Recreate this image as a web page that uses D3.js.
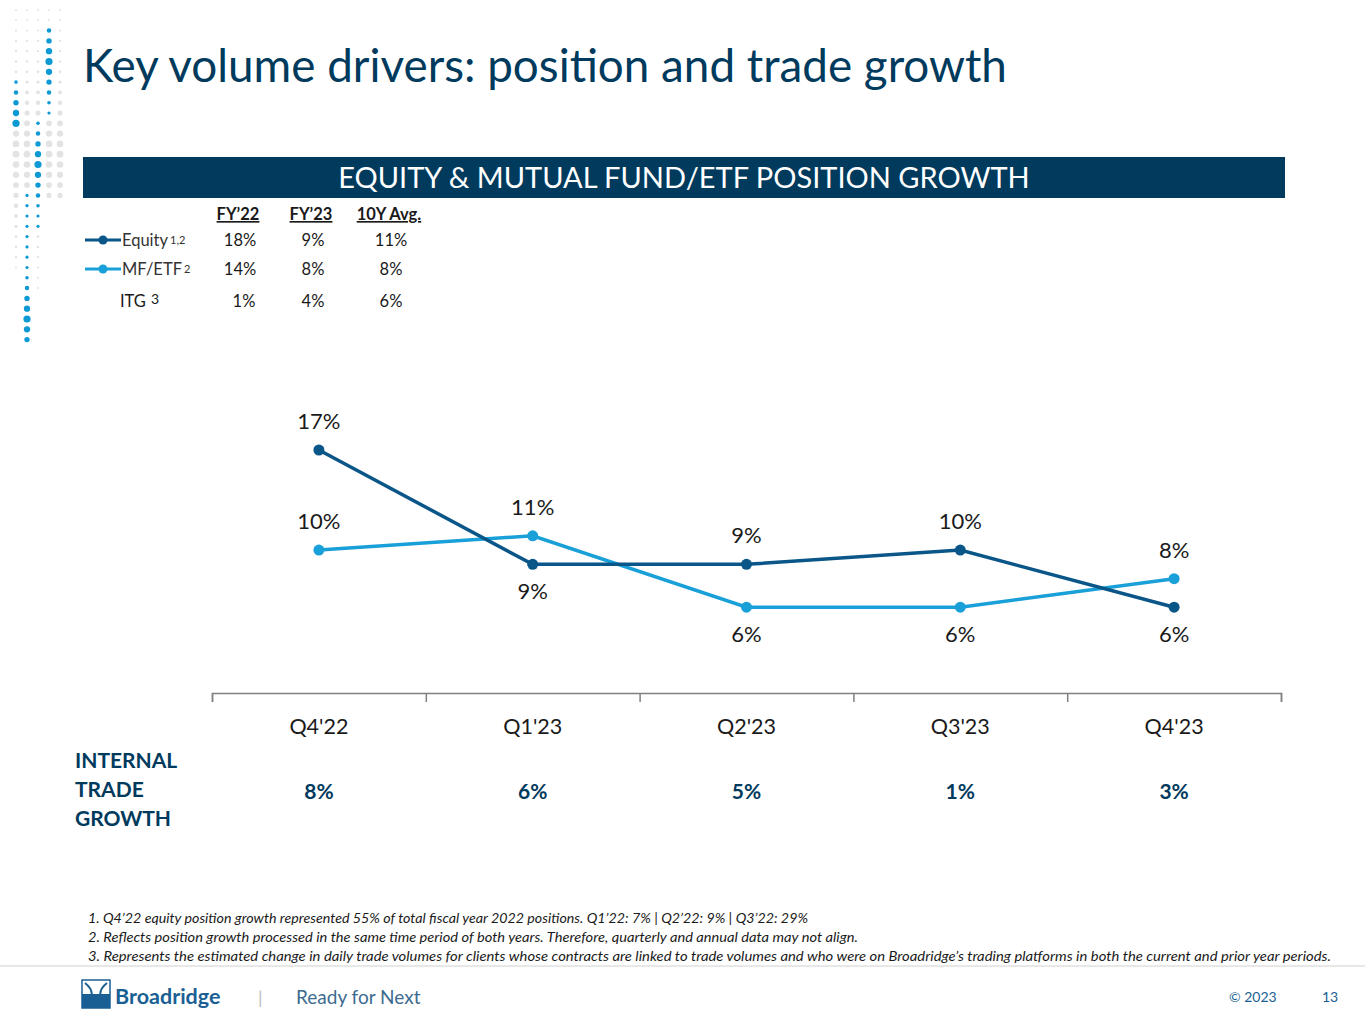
<!DOCTYPE html>
<html>
<head>
<meta charset="utf-8">
<script src="https://cdn.jsdelivr.net/npm/d3@7"></script>
<style>
  body { margin: 0; background: #fff; }
  svg { display: block; font-family: Lato, "Open Sans", sans-serif; }
</style>
</head>
<body>
<div id="chart"></div>
<script>
// ---- data ----
var quarters = ["Q4'22", "Q1'23", "Q2'23", "Q3'23", "Q4'23"];
var equity = [17, 9, 9, 10, 6];
var mfEtf = [10, 11, 6, 6, 8];
var tradeGrowth = [8, 6, 5, 1, 3];
// where each data label sits: "a" above the point, "b" below
var equityLabelPos = ["a", "b", "a", "a", "b"];
var mfLabelPos = ["a", "a", "b", "b", "a"];

var tableCols = ["FY\u201922", "FY\u201923", "10Y Avg."];
var tableRows = ["Equity", "MF/ETF", "ITG"];
var tableNotes = ["1,2", "2", "3"];
var tableValues = [[18, 9, 11], [14, 8, 8], [1, 4, 6]];

var footnotes = [
  "1. Q4\u201922 equity position growth represented 55% of total fiscal year 2022 positions. Q1\u201922: 7% | Q2\u201922: 9% | Q3\u201922: 29%",
  "2. Reflects position growth processed in the same time period of both years. Therefore, quarterly and annual data may not align.",
  "3. Represents the estimated change in daily trade volumes for clients whose contracts are linked to trade volumes and who were on Broadridge\u2019s trading platforms in both the current and prior year periods."
];
var footnoteWidths = [720, 770, 1243];

var navy = "#003a5d";
var eqColor = "#0b5688";
var mfColor = "#1aa0d8";

var W = 1365, H = 1024;
var svg = d3.select("#chart").append("svg")
  .attr("width", W).attr("height", H);

// ---- decorative dot pattern (top-left) ----
var dotCols = [16, 27, 38, 49, 60];
// blue runs per column: [startRow, endRow, peakRow]
var blueRuns = [[[7, 11, 11]], [[18, 32, 30]], [[11, 21, 15]], [[2, 10, 5]], []];
var deco = svg.append("g");
dotCols.forEach(function (cx, ci) {
  for (var r = 0; r < 33; r++) {
    var cy = 10 + r * 10.3;
    var run = blueRuns[ci].filter(function (b) { return r >= b[0] && r <= b[1]; })[0];
    if (run) {
      var d = Math.abs(r - run[2]);
      deco.append("circle").attr("cx", cx).attr("cy", cy)
        .attr("r", Math.max(1.6, 3.6 - d * 0.45)).attr("fill", "#0d99d4");
    } else {
      var lim = [25, 17, 27, 18, 18][ci];
      if (r > lim) continue;
      var g = 1 + 2.4 * Math.exp(-Math.pow((r - 14) / 6, 2));
      deco.append("circle").attr("cx", cx).attr("cy", cy)
        .attr("r", g).attr("fill", "#e3e3e3");
    }
  }
});

// ---- title ----
svg.append("text").attr("x", 83).attr("y", 82)
  .attr("font-size", 45.8).attr("fill", navy)
  .text("Key volume drivers: position and trade growth");

// ---- header bar ----
svg.append("rect").attr("x", 83).attr("y", 157).attr("width", 1202).attr("height", 41)
  .attr("fill", navy);
svg.append("text").attr("x", 684).attr("y", 188).attr("text-anchor", "middle")
  .attr("font-size", 29).attr("fill", "#fff")
  .text("EQUITY & MUTUAL FUND/ETF POSITION GROWTH");

// ---- legend table ----
var colX = [238, 311, 389];
var rowY = [246, 275, 307];
var tbl = svg.append("g").attr("font-size", 16.5).attr("fill", "#1a1a1a");
tableCols.forEach(function (c, i) {
  tbl.append("text").attr("x", colX[i]).attr("y", 220).attr("text-anchor", "middle")
    .attr("font-weight", "bold").attr("text-decoration", "underline").text(c);
});
[eqColor, mfColor].forEach(function (col, i) {
  tbl.append("line").attr("x1", 85).attr("x2", 121).attr("y1", rowY[i] - 6).attr("y2", rowY[i] - 6)
    .attr("stroke", col).attr("stroke-width", 3);
  tbl.append("circle").attr("cx", 103).attr("cy", rowY[i] - 6).attr("r", 4.5).attr("fill", col);
});
tableRows.forEach(function (name, i) {
  var t = tbl.append("text").attr("x", i < 2 ? 122 : 120).attr("y", rowY[i])
    .attr("fill", i < 2 ? "#333" : "#1a1a1a");
  t.append("tspan").text(name);
  t.append("tspan").attr("font-size", i < 2 ? 11 : 14).attr("dx", i < 2 ? 2 : 5)
    .attr("dy", i < 2 ? -2 : -3).text(tableNotes[i]);
  tableValues[i].forEach(function (v, j) {
    tbl.append("text").attr("x", colX[j] + (i == 2 && j == 0 ? 6 : 2)).attr("y", rowY[i])
      .attr("text-anchor", "middle").text(v + "%");
  });
});

// ---- line chart ----
var x = d3.scaleBand().domain(quarters).range([212, 1281]);
var y = d3.scaleLinear().domain([0, 17]).range([693, 450]);
var cx = function (d, i) { return x(quarters[i]) + x.bandwidth() / 2; };

// axis with category labels
svg.append("g").attr("transform", "translate(0,693)")
  .call(d3.axisBottom(x).tickSize(0).tickPadding(26))
  .call(function (g) {
    g.select(".domain").remove();
    g.selectAll("text").attr("font-size", 21.5).attr("fill", "#1a1a1a")
      .attr("font-family", "Lato, sans-serif");
  });
// axis line with boundary ticks
var bound = d3.scaleLinear().domain([0, quarters.length]).range([212, 1281]);
svg.append("g").attr("transform", "translate(0,693)")
  .call(d3.axisBottom(bound).ticks(quarters.length).tickSize(9).tickSizeOuter(9).tickFormat(""))
  .call(function (g) {
    g.selectAll("path, line").attr("stroke", "#808080").attr("stroke-width", 1.5);
  });

var line = d3.line().x(cx).y(function (d) { return y(d); });

[[mfEtf, mfColor, mfLabelPos], [equity, eqColor, equityLabelPos]].forEach(function (s) {
  var g = svg.append("g");
  g.append("path").datum(s[0]).attr("d", line)
    .attr("fill", "none").attr("stroke", s[1]).attr("stroke-width", 3.5);
  g.selectAll("circle").data(s[0]).enter().append("circle")
    .attr("cx", cx).attr("cy", function (d) { return y(d); })
    .attr("r", 5.5).attr("fill", s[1]);
});

[[mfEtf, mfLabelPos], [equity, equityLabelPos]].forEach(function (s) {
  svg.append("g").selectAll("text").data(s[0]).enter().append("text")
    .attr("x", cx)
    .attr("y", function (d, i) { return y(d) + (s[1][i] == "a" ? -21 : 35); })
    .attr("text-anchor", "middle").attr("font-size", 22).attr("fill", "#1a1a1a")
    .text(function (d) { return d + "%"; });
});

// ---- internal trade growth row ----
var itg = svg.append("g").attr("font-weight", "bold").attr("fill", navy).attr("font-size", 21);
["INTERNAL", "TRADE", "GROWTH"].forEach(function (w, i) {
  itg.append("text").attr("x", 75).attr("y", 768 + i * 29).text(w);
});
itg.selectAll(".v").data(tradeGrowth).enter().append("text")
  .attr("x", cx).attr("y", 799).attr("text-anchor", "middle")
  .text(function (d) { return d + "%"; });

// ---- footnotes ----
svg.append("g").attr("font-size", 13).attr("font-style", "italic").attr("fill", "#1a1a1a")
  .selectAll("text").data(footnotes).enter().append("text")
  .attr("x", 88).attr("y", function (d, i) { return 923 + i * 19; })
  .attr("textLength", function (d, i) { return footnoteWidths[i]; })
  .attr("lengthAdjust", "spacingAndGlyphs")
  .text(function (d) { return d; });

svg.append("line").attr("x1", 0).attr("x2", W).attr("y1", 966).attr("y2", 966)
  .attr("stroke", "#d0d0d0").attr("stroke-width", 1);

// ---- footer ----
var logo = svg.append("g").attr("transform", "translate(82,980)");
logo.append("rect").attr("width", 28).attr("height", 28).attr("fill", "#fff")
  .attr("stroke", "#1a5f94").attr("stroke-width", 1.5);
logo.append("rect").attr("y", 14).attr("width", 28).attr("height", 14).attr("fill", "#1a5f94");
logo.append("path").attr("d", "M3,3 C12,10 12,18 3,25 M25,3 C16,10 16,18 25,25")
  .attr("fill", "none").attr("stroke", "#1a5f94").attr("stroke-width", 2);
svg.append("text").attr("x", 115).attr("y", 1004).attr("font-size", 21.5)
  .attr("font-weight", "bold").attr("fill", "#1a5f94").text("Broadridge");
svg.append("text").attr("x", 258).attr("y", 1004).attr("font-size", 18)
  .attr("fill", "#bbbbbb").text("|");
svg.append("text").attr("x", 296).attr("y", 1004).attr("font-size", 19)
  .attr("fill", "#3d6b8f").text("Ready for Next");
svg.append("text").attr("x", 1229).attr("y", 1002).attr("font-size", 14)
  .attr("fill", "#1a5f94").text("\u00a9 2023");
svg.append("text").attr("x", 1322).attr("y", 1002).attr("font-size", 14)
  .attr("fill", "#1a5f94").text("13");
</script>
</body>
</html>
